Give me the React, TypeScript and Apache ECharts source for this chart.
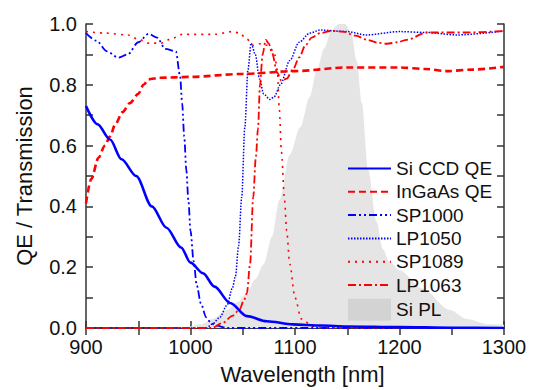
import React, { useEffect, useRef } from "react";
import * as echarts from "echarts";

// Wavelength (nm) / value pairs
const siCcdWl = [900, 911, 923, 934, 948, 963, 977, 991, 1000, 1012, 1023, 1038, 1054, 1073, 1098, 1125, 1150, 1200, 1250, 1300];
const siCcdQe = [0.73, 0.67, 0.62, 0.555, 0.5, 0.4, 0.33, 0.265, 0.215, 0.18, 0.136, 0.082, 0.039, 0.022, 0.012, 0.008, 0.005, 0.003, 0.001, 0.0];

const ingaasWl = [900, 905, 912, 918, 923, 928, 935, 942, 950, 955, 960, 970, 1000, 1050, 1100, 1150, 1200, 1225, 1245, 1270, 1300];
const ingaasQe = [0.41, 0.49, 0.56, 0.6, 0.63, 0.67, 0.71, 0.74, 0.77, 0.8, 0.818, 0.823, 0.826, 0.836, 0.845, 0.857, 0.857, 0.852, 0.845, 0.85, 0.859];

const sp1000Wl = [900, 910, 920, 931, 940, 950, 960, 968, 976, 986, 990, 992, 994, 996, 998, 1000, 1003, 1006, 1010, 1015, 1020, 1025, 1035, 1300];
const sp1000T = [0.97, 0.945, 0.91, 0.889, 0.9, 0.94, 0.968, 0.955, 0.918, 0.91, 0.83, 0.74, 0.63, 0.52, 0.42, 0.32, 0.22, 0.14, 0.08, 0.035, 0.015, 0.008, 0.0, 0.0];

const lp1050Wl = [900, 1015, 1021, 1028, 1035, 1040, 1043, 1046, 1049, 1052, 1055, 1058, 1062, 1066, 1070, 1076, 1080, 1086, 1095, 1104, 1114, 1124, 1150, 1168, 1200, 1226, 1255, 1300];
const lp1050T = [0.0, 0.0, 0.013, 0.035, 0.075, 0.13, 0.17, 0.27, 0.43, 0.66, 0.85, 0.937, 0.9, 0.82, 0.77, 0.752, 0.76, 0.8, 0.88, 0.94, 0.97, 0.98, 0.975, 0.964, 0.975, 0.972, 0.964, 0.977];

const sp1089Wl = [900, 918, 940, 950, 960, 972, 982, 992, 1023, 1040, 1047, 1054, 1060, 1066, 1073, 1080, 1083, 1085, 1087, 1090, 1092, 1095, 1100, 1106, 1117, 1130, 1300];
const sp1089T = [0.975, 0.97, 0.964, 0.95, 0.937, 0.937, 0.952, 0.966, 0.966, 0.975, 0.97, 0.95, 0.93, 0.935, 0.93, 0.91, 0.85, 0.72, 0.58, 0.42, 0.32, 0.21, 0.1, 0.03, 0.006, 0.0, 0.0];

const lp1063Wl = [900, 1020, 1031, 1040, 1047, 1051, 1054, 1057, 1060, 1062.5, 1064.6, 1066.5, 1069, 1072, 1075, 1078, 1083, 1087, 1092, 1098, 1104, 1110, 1116, 1124, 1134, 1146, 1158, 1169, 1180, 1188, 1198, 1207, 1226, 1264, 1300];
const lp1063T = [0.0, 0.0, 0.017, 0.04, 0.061, 0.09, 0.115, 0.21, 0.43, 0.56, 0.656, 0.8, 0.9, 0.948, 0.935, 0.905, 0.84, 0.813, 0.82, 0.85, 0.89, 0.93, 0.955, 0.97, 0.977, 0.975, 0.962, 0.948, 0.938, 0.935, 0.94, 0.948, 0.972, 0.972, 0.977];

const siPlWl = [900, 985, 1000, 1010, 1021, 1035, 1045, 1054, 1062, 1070, 1078, 1085, 1095, 1105, 1114, 1121, 1128, 1135, 1142, 1148, 1154, 1159, 1164, 1170, 1178, 1184, 1190, 1200, 1222, 1248, 1264, 1286, 1300];
const siPlI = [0.0, 0.0, 0.005, 0.012, 0.03, 0.06, 0.085, 0.115, 0.16, 0.21, 0.3, 0.42, 0.57, 0.66, 0.76, 0.85, 0.92, 0.98, 1.0, 1.0, 0.97, 0.88, 0.74, 0.52, 0.35, 0.26, 0.22, 0.19, 0.13, 0.06, 0.03, 0.012, 0.01];

const xTicks = { min: 900, max: 1300, step: 50 };
const yTicks = { min: 0, max: 1, step: 0.1 };

const zip = (xs: number[], ys: number[]) => xs.map((x, i) => [x, ys[i]]);

const FONT = "'Liberation Sans', Arial, sans-serif";
const AX = "#333";
const TXT = "#111";
const PL_GRAY = "#e5e5e5";

export default function App() {
  const ref = useRef<HTMLDivElement>(null);
  useEffect(() => {
    const chart = echarts.init(ref.current!, null, { renderer: "svg" });
    const axisLine = { show: true, lineStyle: { color: AX, width: 1.5 } };
    const axisTick = { show: true, inside: true, length: 7, lineStyle: { color: AX, width: 1.5 } };
    const lineCommon = { type: "line" as const, symbol: "none", smooth: 0.3, smoothMonotone: "x" as const, xAxisIndex: 0, yAxisIndex: 0 };
    chart.setOption({
      animation: false,
      textStyle: { fontFamily: FONT },
      grid: { left: 86, right: 29, top: 24, bottom: 58 },
      xAxis: [
        {
          type: "value", min: xTicks.min, max: xTicks.max, interval: xTicks.step,
          axisLine, axisTick, splitLine: { show: false },
          axisLabel: {
            margin: 9, fontSize: 20, color: TXT, fontFamily: FONT,
            formatter: (v: number) => (Math.round(v) % 100 === 0 ? String(Math.round(v)) : ""),
          },
          name: "Wavelength [nm]", nameLocation: "middle", nameGap: 35,
          nameTextStyle: { fontSize: 22, color: TXT, fontFamily: FONT, padding: [0, 0, 0, 15] },
        },
        {
          type: "value", position: "top", min: xTicks.min, max: xTicks.max, interval: xTicks.step,
          axisLine, axisTick, splitLine: { show: false }, axisLabel: { show: false },
        },
      ],
      yAxis: [
        {
          type: "value", min: yTicks.min, max: yTicks.max, interval: yTicks.step,
          axisLine, axisTick, splitLine: { show: false },
          axisLabel: {
            margin: 9, fontSize: 20, color: TXT, fontFamily: FONT,
            formatter: (v: number) => (Math.round(v * 10) % 2 === 0 ? v.toFixed(1) : ""),
          },
          name: "QE / Transmission", nameLocation: "middle", nameGap: 51,
          nameTextStyle: { fontSize: 22, color: TXT, fontFamily: FONT },
        },
        {
          type: "value", position: "right", min: yTicks.min, max: yTicks.max, interval: yTicks.step,
          axisLine, axisTick, splitLine: { show: false }, axisLabel: { show: false },
        },
      ],
      legend: {
        orient: "vertical", left: 342, top: 154, itemWidth: 43, itemHeight: 22, itemGap: 4.3,
        textStyle: { fontSize: 19, color: TXT, fontFamily: FONT },
        itemStyle: { opacity: 0 },
        data: [
          "Si CCD QE", "InGaAs QE", "SP1000", "LP1050", "SP1089", "LP1063",
          { name: "Si PL", icon: "rect", itemStyle: { color: "#d3d3d3", opacity: 1 } },
        ],
      },
      series: [
        {
          ...lineCommon, name: "Si PL", data: zip(siPlWl, siPlI), color: PL_GRAY,
          lineStyle: { width: 0, color: PL_GRAY }, areaStyle: { color: PL_GRAY, opacity: 1 }, z: 1,
        },
        { ...lineCommon, name: "SP1000", data: zip(sp1000Wl, sp1000T), color: "#0000ff", lineStyle: { width: 1.8, color: "#0000ff", type: [8, 3, 2, 3, 2, 3] } },
        { ...lineCommon, name: "LP1050", data: zip(lp1050Wl, lp1050T), color: "#0000ff", lineStyle: { width: 1.5, color: "#0000ff", type: [1.5, 1.5] } },
        { ...lineCommon, name: "SP1089", data: zip(sp1089Wl, sp1089T), color: "#ff0000", lineStyle: { width: 1.6, color: "#ff0000", type: [2, 5] } },
        { ...lineCommon, name: "LP1063", data: zip(lp1063Wl, lp1063T), color: "#ff0000", lineStyle: { width: 1.8, color: "#ff0000", type: [8, 3, 2, 3] } },
        { ...lineCommon, name: "InGaAs QE", data: zip(ingaasWl, ingaasQe), color: "#ff0000", lineStyle: { width: 2.6, color: "#ff0000", type: [7, 4] } },
        { ...lineCommon, name: "Si CCD QE", data: zip(siCcdWl, siCcdQe), color: "#0000ff", lineStyle: { width: 2.6, color: "#0000ff" } },
      ],
    });
    return () => chart.dispose();
  }, []);
  return <div ref={ref} style={{ position: "fixed", left: 0, top: 0, width: 533, height: 390, background: "#fff" }} />;
}
